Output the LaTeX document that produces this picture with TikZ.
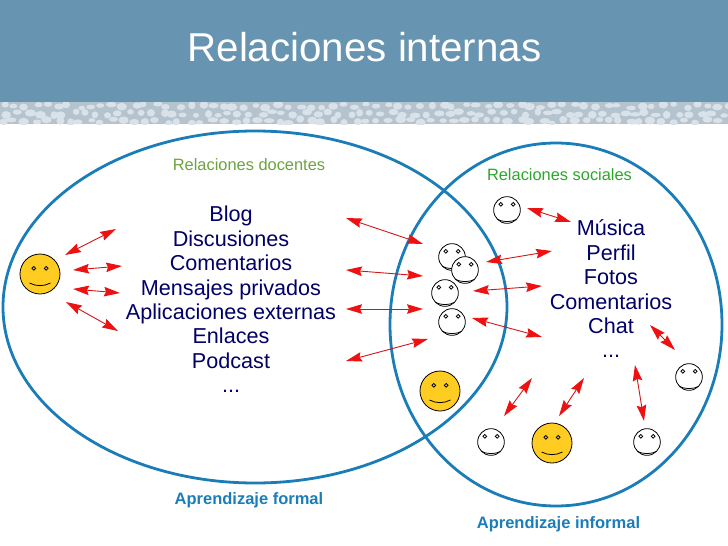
\documentclass[tikz,border=0pt]{standalone}
\usepackage{fontspec}
\setmainfont{Liberation Sans}
\usepackage{tikz}
\usetikzlibrary{arrows.meta,shapes.geometric}

\definecolor{headblue}{HTML}{6794B0}
\definecolor{bandgrey}{HTML}{B4C3CE}
\definecolor{pebble}{HTML}{D9E2E8}
\definecolor{zoneblue}{HTML}{1B7DB8}
\definecolor{listnavy}{HTML}{000066}
\definecolor{greenA}{HTML}{6BA33E}
\definecolor{greenB}{HTML}{2CA62C}
\definecolor{faceyellow}{HTML}{FFCC22}
\definecolor{tipred}{HTML}{EE1111}
\definecolor{linkred}{HTML}{D01818}

\begin{document}
\begin{tikzpicture}[x=1pt,y=-1pt,
    zone/.style={ellipse,draw=zoneblue,line width=2.8pt,inner sep=0pt,outer sep=0pt},
    link/.style={{Stealth[length=16pt,width=9.5pt,inset=2pt,color=tipred]}-{Stealth[length=16pt,width=9.5pt,inset=2pt,color=tipred]},draw=linkred,line width=0.9pt},
    items/.style={text=listnavy,align=center,inner sep=0pt,font=\fontsize{21.6}{24.4}\selectfont},
    smallnote/.style={inner sep=0pt,anchor=base,font=\fontsize{16.4}{18}\selectfont},
    tag/.style={inner sep=0pt,anchor=base,text=zoneblue,font=\fontsize{16.5}{18}\selectfont\bfseries},
    face/.style 2 args={circle,draw=black,line width=0.8pt,fill=#1,inner sep=0pt,outer sep=0pt,minimum size=2*#2*20pt,
      path picture={
        \draw[shift={(path picture bounding box.center)},scale=#2,line width=0.8pt]
          (-6.2,-5.7) circle (1.9) (6.2,-5.7) circle (1.9)
          (-10.5,9) .. controls (-4,12.5) and (4,12.5) .. (10.5,9);
      }},
    plain/.style={face={white}{0.667}},
    gold/.style={face={faceyellow}{1}}]

    \useasboundingbox (0,0) rectangle (728,546);

    % header
    \fill[headblue] (0,0) rectangle (728,102);
    \fill[bandgrey] (0,102) rectangle (728,124);
    \begin{scope}
      \clip (0,102) rectangle (728,124);
      \pgfmathsetseed{7}
      \foreach \i in {0,...,66} {
        \foreach \j in {0,1,2} {
          \pgfmathsetmacro{\px}{\i*11+5.5*mod(\j,2)+rnd*6}
          \pgfmathsetmacro{\py}{104+\j*7.5+rnd*4}
          \pgfmathsetmacro{\pa}{3.2+rnd*2.4}
          \pgfmathsetmacro{\pb}{2.2+rnd*1.8}
          \fill[pebble] (\px,\py) ellipse [x radius=\pa,y radius=\pb];
        }
      }
    \end{scope}
    \node[text=white,inner sep=0pt,anchor=base,font=\fontsize{40.3}{44}\selectfont] (title) at (364.5,61) {Relaciones internas};

    \node[zone,minimum width=504pt,minimum height=352pt] (formal) at (255,307) {};
    \node[zone,minimum width=332pt,minimum height=363pt] (informal) at (556,324.5) {};

    \node[smallnote,text=greenA] (docentes) at (249,170) {Relaciones docentes};
    \node[smallnote,text=greenB] (sociales) at (559.5,180) {Relaciones sociales};
    \node[tag] (aformal) at (249,504) {Aprendizaje formal};
    \node[tag] (ainformal) at (558.5,528) {Aprendizaje informal};

    \node[items] (docente) at (231,299.4) {Blog\\Discusiones\\Comentarios\\Mensajes privados\\Aplicaciones externas\\Enlaces\\Podcast\\...};
    \node[items] (social) at (611,289) {Música\\Perfil\\Fotos\\Comentarios\\Chat\\...};

    \node[gold]  (f0) at (40,274)  {};
    \node[plain] (f1) at (507,210) {};
    \node[plain] (f2) at (452,257) {};
    \node[plain] (f3) at (465,270) {};
    \node[plain] (f4) at (445,293) {};
    \node[plain] (f5) at (452,322) {};
    \node[gold]  (f6) at (440,391) {};
    \node[plain] (f7) at (491,442) {};
    \node[gold]  (f8) at (552,443) {};
    \node[plain] (f9) at (647,442) {};
    \node[plain] (f10) at (689,377) {};

    \foreach \n/\xa/\ya/\xb/\yb in {
      1/65/255/116/229, 2/73/270/122/266, 3/73/289/120/293, 4/66/302/118/331,
      5/346/218/423/244, 6/346/270/423/276, 7/346/309/423/309, 8/346/361/428/339,
      9/527/208/571/222, 10/486/262/552/251, 11/473/291/542/286, 12/472/318/542/337,
      13/650/325/675/350, 14/504/416/532/378, 15/559/416/584/378, 16/635/365/644/421} {
      \coordinate (s\n) at (\xa,\ya);
      \coordinate (e\n) at (\xb,\yb);
      \draw[link] (s\n) -- (e\n);
    }
\end{tikzpicture}
\end{document}
